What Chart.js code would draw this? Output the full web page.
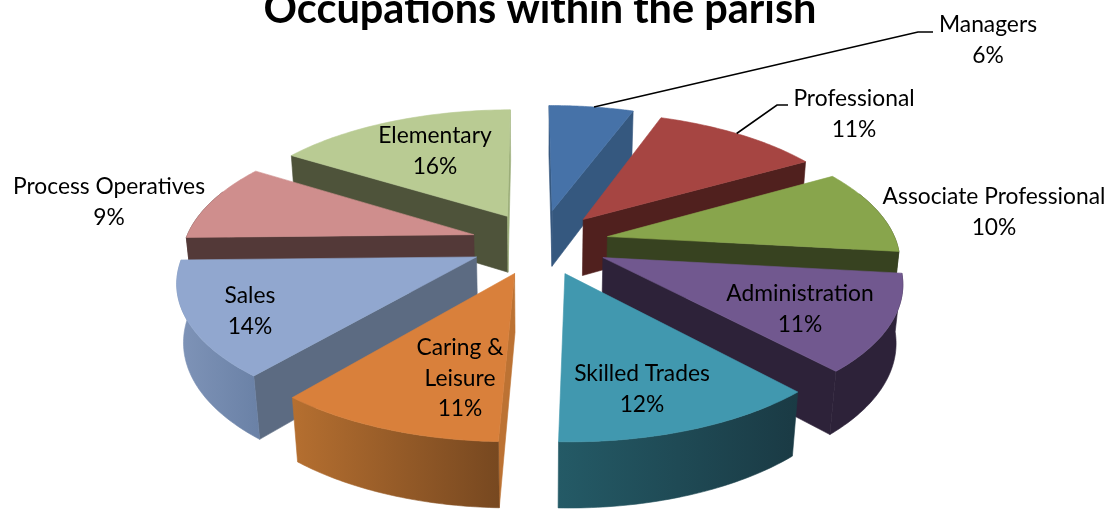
<!DOCTYPE html>
<html><head><meta charset="utf-8">
<style>html,body{margin:0;padding:0;background:#fff;overflow:hidden}canvas{display:block}</style>
<script src="https://cdn.jsdelivr.net/npm/chart.js@4"></script>
</head><body><canvas id="c" width="1110" height="509"></canvas>
<script>
const categories=["Managers","Professional","Associate Professional","Administration","Skilled Trades","Caring & Leisure","Sales","Process Operatives","Elementary"];
const shares=[5.6,11.1,10.2,11.45,12.25,10.5,13.65,9.35,15.9];
const explosion=[0.26,0.24,0.24,0.24,0.24,0.24,0.24,0.24,0.24];
const topColors=["#4672A8","#A64542","#88A54C","#71588F","#4198AF","#D9803B","#91A7CF","#CF8E8D","#B9CB93"];
const startColors=["#35587F","#50201E","#374220","#2D2239","#1C3D47","#BC7233","#5C6B82","#533938","#4E533A"];
const endColors=["#35587F","#50201E","#374220","#2D2239","#1C3D47","#BC7233","#5C6B82","#533938","#9BAD78"];
const wallLeft=["#35587F","#50201E","#374220","#2D2239","#245A66","#B56F30","#7F94B8","#533938","#9BAD78"];
const wallRight=["#35587F","#50201E","#374220","#2D2239","#1A3A44","#774820","#6A81A6","#533938","#9BAD78"];
const labelLines=[["Managers"],["Professional"],["Associate Professional"],["Administration"],["Skilled Trades"],["Caring &","Leisure"],["Sales"],["Process Operatives"],["Elementary"]];
const labelSpots=[[988,25],[854,99],[994,197],[800,294],[642,374],[460,348],[250,296],[109,187],[435,136]];
const leaders=[[[918,32],[933,32]],[[777,105],[788,105]]];
const leaderAngle=[0.53,0.48];
const view={cx:540,cy:243,focal:1640,dist:5.67,sin:0.453,cos:0.891,depth:0.226};
const fontFamily='Lato';
const startRotation=-0.36;

function project(u,v,z){
  const Y=v*view.sin+z*view.cos, Zc=view.dist-v*view.cos+z*view.sin;
  return [view.cx+view.focal*u/Zc, view.cy+view.focal*Y/Zc];
}
function poly(ctx,pts,fill){
  ctx.beginPath();pts.forEach((p,i)=>i?ctx.lineTo(p[0],p[1]):ctx.moveTo(p[0],p[1]));ctx.closePath();
  ctx.fillStyle=fill;ctx.fill();ctx.strokeStyle=fill;ctx.lineWidth=0.6;ctx.stroke();
}
function area(p){let a=0;p.forEach((q,i)=>{const r=p[(i+1)%p.length];a+=q[0]*r[1]-r[0]*q[1];});return a;}
function geometry(el,i){
  const mid=(el.startAngle+el.endAngle)/2,e=explosion[i];
  return {mid,ax:e*Math.cos(mid),ay:e*Math.sin(mid),s:el.startAngle,t:el.endAngle};
}
function drawSlice(ctx,el,i){
  const g=geometry(el,i),h=view.depth,n=48,top=[],bot=[];
  for(let k=0;k<=n;k++){
    const a=g.s+(g.t-g.s)*k/n,u=g.ax+Math.cos(a),v=g.ay+Math.sin(a);
    top.push(project(u,v,0));bot.push(project(u,v,h));
  }
  const at=project(g.ax,g.ay,0),ab=project(g.ax,g.ay,h);
  const startFace=[at,top[0],bot[0],ab],endFace=[at,top[n],bot[n],ab];
  if(area(startFace)<0)poly(ctx,startFace,startColors[i]);
  if(area(endFace)>0)poly(ctx,endFace,endColors[i]);
  const vis=[];
  for(let k=0;k<=n;k++){const a=g.s+(g.t-g.s)*k/n;if(Math.sin(a)>-0.35)vis.push(k);}
  if(vis.length>1){
    const tp=vis.map(k=>top[k]),bp=vis.map(k=>bot[k]).reverse();
    const xs=tp.concat(bp).map(p=>p[0]);
    const grad=ctx.createLinearGradient(Math.min(...xs),0,Math.max(...xs),0);
    grad.addColorStop(0,wallLeft[i]);grad.addColorStop(1,wallRight[i]);
    poly(ctx,tp.concat(bp),grad);
  }
  poly(ctx,[at,...top],topColors[i]);
}
const pie3d={
  id:'pie3d',
  beforeDatasetDraw(chart){
    const ctx=chart.ctx,arcs=chart.getDatasetMeta(0).data;
    const order=arcs.map((el,i)=>i).sort((a,b)=>{
      const ma=(arcs[a].startAngle+arcs[a].endAngle)/2,mb=(arcs[b].startAngle+arcs[b].endAngle)/2;
      return Math.sin(ma)-Math.sin(mb);
    });
    order.forEach(i=>drawSlice(ctx,arcs[i],i));
    ctx.strokeStyle='#000';ctx.lineWidth=1.6;
    leaders.forEach((pts,i)=>{
      const g=geometry(arcs[i],i),a=g.s+(g.t-g.s)*leaderAngle[i];
      const p=project(g.ax+Math.cos(a),g.ay+Math.sin(a),0);
      ctx.beginPath();ctx.moveTo(p[0],p[1]);pts.forEach(q=>ctx.lineTo(q[0],q[1]));ctx.stroke();
    });
    ctx.fillStyle='#000';ctx.font='22.8px '+fontFamily;ctx.textAlign='center';ctx.textBaseline='middle';
    arcs.forEach((el,i)=>{
      const lines=labelLines[i].concat([Math.round(shares[i])+'%']);
      lines.forEach((t,k)=>ctx.fillText(t,labelSpots[i][0],labelSpots[i][1]+k*30.5));
    });
    return false;
  }
};
const canvas=document.getElementById('c');
canvas.getContext('2d').letterSpacing='0.01px';
new Chart(canvas,{
  type:'pie',
  data:{labels:categories,datasets:[{data:shares,backgroundColor:topColors,borderWidth:0}]},
  options:{responsive:false,animation:false,rotation:startRotation,layout:{padding:{right:30}},
    plugins:{legend:{display:false},tooltip:{enabled:false},
      title:{display:true,text:'Occupations within the parish',color:'#000',
        font:{family:fontFamily,size:41.5,weight:'bold'},padding:{top:-15,bottom:0}}}},
  plugins:[pie3d]
});
</script></body></html>
